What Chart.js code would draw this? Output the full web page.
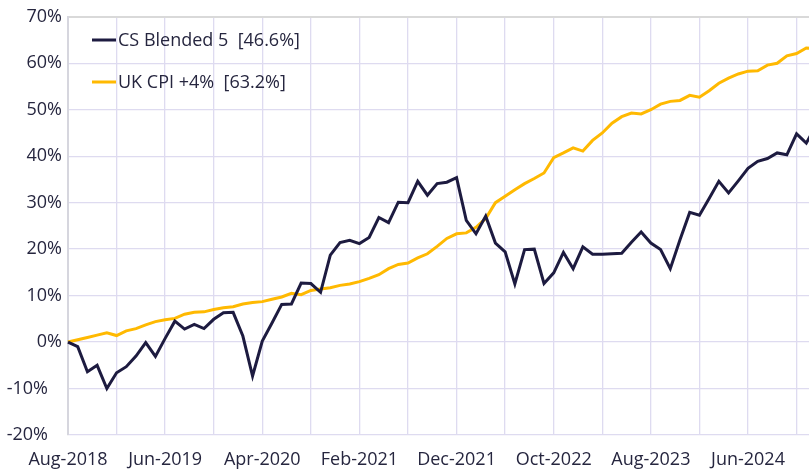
<!DOCTYPE html>
<html>
<head>
<meta charset="utf-8">
<script src="https://cdn.jsdelivr.net/npm/chart.js@4"></script>
<style>
  html, body { margin: 0; padding: 0; background: #fff; overflow: hidden; }
  #wrap { width: 816px; height: 472px; }
</style>
</head>
<body>
<div id="wrap"><canvas id="perf" width="816" height="472"></canvas></div>
<script>
// months, Aug-2018 to Jan-2025
const months = [
  'Aug-2018','Sep-2018','Oct-2018','Nov-2018','Dec-2018',
  'Jan-2019','Feb-2019','Mar-2019','Apr-2019','May-2019','Jun-2019','Jul-2019','Aug-2019','Sep-2019','Oct-2019','Nov-2019','Dec-2019',
  'Jan-2020','Feb-2020','Mar-2020','Apr-2020','May-2020','Jun-2020','Jul-2020','Aug-2020','Sep-2020','Oct-2020','Nov-2020','Dec-2020',
  'Jan-2021','Feb-2021','Mar-2021','Apr-2021','May-2021','Jun-2021','Jul-2021','Aug-2021','Sep-2021','Oct-2021','Nov-2021','Dec-2021',
  'Jan-2022','Feb-2022','Mar-2022','Apr-2022','May-2022','Jun-2022','Jul-2022','Aug-2022','Sep-2022','Oct-2022','Nov-2022','Dec-2022',
  'Jan-2023','Feb-2023','Mar-2023','Apr-2023','May-2023','Jun-2023','Jul-2023','Aug-2023','Sep-2023','Oct-2023','Nov-2023','Dec-2023',
  'Jan-2024','Feb-2024','Mar-2024','Apr-2024','May-2024','Jun-2024','Jul-2024','Aug-2024','Sep-2024','Oct-2024','Nov-2024','Dec-2024',
  'Jan-2025'
];

// labels shown under the axis
const tickLabels = ['Aug-2018','Jun-2019','Apr-2020','Feb-2021','Dec-2021','Oct-2022','Aug-2023','Jun-2024'];

// cumulative return, %
const csBlended = [
  0, -1.0, -6.4, -5.0, -10.0, -6.6, -5.3, -3.0, -0.1, -3.1,
  0.8, 4.5, 2.8, 3.8, 2.9, 4.9, 6.3, 6.4, 1.3, -7.3,
  0.2, 4.1, 8.1, 8.2, 12.7, 12.6, 10.7, 18.7, 21.4, 21.9,
  21.2, 22.5, 26.8, 25.7, 30.1, 30.0, 34.6, 31.6, 34.1, 34.4,
  35.4, 26.2, 23.3, 27.1, 21.3, 19.4, 12.5, 19.9, 20.0, 12.6,
  14.9, 19.3, 15.8, 20.5, 18.9, 18.9, 19.0, 19.1, 21.5, 23.7,
  21.3, 19.9, 15.8, 22.0, 27.9, 27.3, 30.9, 34.6, 32.1, 34.7,
  37.4, 38.9, 39.5, 40.7, 40.3, 44.8, 42.8, 46.6
];

const ukCpi = [
  0, 0.5, 1.0, 1.5, 2.0, 1.4, 2.4, 2.9, 3.7, 4.4,
  4.8, 5.1, 6.0, 6.4, 6.5, 7.0, 7.4, 7.6, 8.2, 8.5,
  8.7, 9.2, 9.7, 10.5, 10.2, 11.1, 11.4, 11.7, 12.2, 12.5,
  13.0, 13.7, 14.5, 15.8, 16.7, 17.0, 18.1, 19.0, 20.6, 22.3,
  23.3, 23.5, 24.7, 26.6, 30.0, 31.4, 32.8, 34.1, 35.2, 36.4,
  39.7, 40.7, 41.8, 41.1, 43.4, 45.0, 47.1, 48.5, 49.3, 49.1,
  50.0, 51.2, 51.8, 52.0, 53.1, 52.7, 54.1, 55.7, 56.8, 57.7,
  58.3, 58.4, 59.6, 60.0, 61.6, 62.1, 63.3, 63.2
];

const seriesNames = ['CS Blended 5  [46.6%]', 'UK CPI +4%  [63.2%]'];

const textColor = '#26263f';
const gridColor = '#dedbf0';
const fontFamily = '"Open Sans", sans-serif';

// legend drawn inside the plot, top left
const innerLegend = {
  id: 'innerLegend',
  afterDraw(chart) {
    const ctx = chart.ctx;
    ctx.save();
    ctx.font = '18px ' + fontFamily;
    ctx.textBaseline = 'middle';
    ctx.textAlign = 'left';
    chart.data.datasets.forEach(function (ds, i) {
      const y = 40 + i * 42;
      ctx.strokeStyle = ds.borderColor;
      ctx.lineWidth = 3;
      ctx.beginPath();
      ctx.moveTo(92, y);
      ctx.lineTo(116, y);
      ctx.stroke();
      ctx.fillStyle = textColor;
      ctx.fillText(ds.label, 118, y + 1);
    });
    ctx.restore();
  }
};

new Chart(document.getElementById('perf'), {
  type: 'line',
  data: {
    labels: months,
    datasets: [{
      label: seriesNames[0],
      data: csBlended,
      borderColor: '#1d1b40',
      borderWidth: 3,
      pointRadius: 0,
      tension: 0
    }, {
      label: seriesNames[1],
      data: ukCpi,
      borderColor: '#ffb901',
      borderWidth: 3,
      pointRadius: 0,
      tension: 0
    }]
  },
  options: {
    responsive: false,
    animation: false,
    devicePixelRatio: 1,
    layout: { padding: { top: 16, right: 0, left: 0, bottom: 0 } },
    plugins: {
      legend: { display: false },
      tooltip: { enabled: false }
    },
    scales: {
      x: {
        offset: false,
        afterFit: function (s) {
          s.height = 37;
          s.paddingLeft = 0;
          s.paddingRight = 0;
        },
        grid: {
          drawTicks: false,
          lineWidth: 1.3,
          color: function (c) { return c.index % 5 === 0 ? gridColor : 'transparent'; }
        },
        border: { display: false },
        ticks: {
          autoSkip: false,
          maxRotation: 0,
          padding: 14,
          color: textColor,
          font: { family: fontFamily, size: 18 },
          callback: function (v, i) {
            const m = months[i];
            return tickLabels.includes(m) ? m : '';
          }
        }
      },
      y: {
        min: -20,
        max: 70,
        afterFit: function (s) { s.width = 68; },
        grid: {
          drawTicks: false,
          lineWidth: function (c) { return c.tick && c.tick.value === 70 ? 2 : 1.3; },
          color: function (c) { return c.tick && c.tick.value === 70 ? '#d9d9d9' : gridColor; }
        },
        border: { display: true, color: '#d6d6de', width: 2 },
        ticks: {
          stepSize: 10,
          padding: 6,
          color: textColor,
          font: { family: fontFamily, size: 18 },
          callback: function (v) { return v < 0 ? v + '%   ' : v + '%'; }
        }
      }
    }
  },
  plugins: [innerLegend]
});
</script>
</body>
</html>
